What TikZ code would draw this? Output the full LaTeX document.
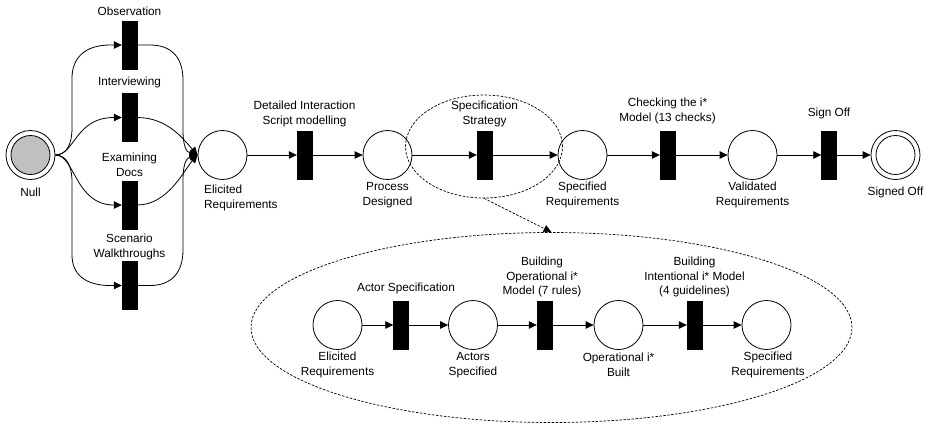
\documentclass[tikz,border=0pt]{standalone}
\usepackage{fontspec}
\setmainfont{Liberation Sans}
\usetikzlibrary{arrows.meta,shapes.geometric}
\begin{document}
\begin{tikzpicture}[x=1pt,y=-1pt,
  place/.style={draw,circle,minimum size=49pt,inner sep=0pt,line width=0.8pt},
  innerplace/.style={draw,circle,minimum size=39pt,inner sep=0pt,line width=0.8pt},
  trans/.style={draw,fill=black,rectangle,minimum width=15pt,minimum height=48pt,inner sep=0pt},
  lbl/.style={inner sep=0pt,align=center,font=\fontsize{11.8}{14.5}\selectfont},
  arc/.style={line width=0.8pt,-{Triangle[length=8pt,width=7.5pt]}},
  dashedline/.style={line width=0.7pt,dash pattern=on 2.5pt off 1.5pt}]
\useasboundingbox (0,0) rectangle (937,424);

% ---- places of the main net ----
\node[place] (null) at (30.5,155) {};
\node[innerplace,fill={rgb,255:red,192;green,192;blue,192}] (nullin) at (30.5,155) {};
\node[place] (elic) at (222.5,155) {};
\node[place] (proc) at (387.5,155) {};
\node[place] (spec) at (582.5,155) {};
\node[place] (vali) at (752.5,155) {};
\node[place] (sign) at (895.5,155) {};
\node[innerplace] (signin) at (895.5,155) {};

% ---- transitions of the main net ----
\node[trans] (obs) at (129.5,45) {};
\node[trans] (int) at (129.5,117.5) {};
\node[trans] (exa) at (129.5,205) {};
\node[trans] (scn) at (129.5,285.5) {};
\node[trans] (dis) at (304.5,155) {};
\node[trans] (sst) at (484.5,155) {};
\node[trans] (chk) at (667.5,155) {};
\node[trans] (sof) at (829,155) {};

% ---- labels of the main net ----
\node[lbl] (lnull) at (30.5,192) {Null};
\node[lbl] (lobs) at (129.5,11) {Observation};
\node[lbl] (lint) at (129.5,82) {Interviewing};
\node[lbl] (lexa) at (129.5,165) {Examining\\Docs};
\node[lbl] (lscn) at (129.5,247) {Scenario\\Walkthroughs};
\node[lbl,align=left,anchor=west] (lelic) at (204,198) {Elicited\\Requirements};
\node[lbl] (ldis) at (304.5,114) {Detailed Interaction\\Script modelling};
\node[lbl] (lproc) at (387.5,195) {Process\\Designed};
\node[lbl] (lsst) at (484.5,114) {Specification\\Strategy};
\node[lbl] (lspec) at (582.5,195) {Specified\\Requirements};
\node[lbl] (lchk) at (667.5,111) {Checking the i*\\Model (13 checks)};
\node[lbl] (lvali) at (752.5,195) {Validated\\Requirements};
\node[lbl] (lsof) at (829,113) {Sign Off};
\node[lbl] (lsign) at (895.5,192) {Signed Off};

% ---- elicitation branches ----
\draw[arc] (null.east) .. controls (66,155) and (72,145) .. (72,128) -- (72,78)
  .. controls (72,58) and (85,45) .. (110,45) -- (obs.west);
\draw[arc] (null.east) .. controls (75,155) and (75,117.5) .. (int.west);
\draw[arc] (null.east) .. controls (75,155) and (75,205) .. (exa.west);
\draw[arc] (null.east) .. controls (66,155) and (72,165) .. (72,182) -- (72,255)
  .. controls (72,274) and (85,285.5) .. (110,285.5) -- (scn.west);

\draw[arc] (obs.east) -- (150,45) .. controls (172,45) and (183,58) .. (183,80) -- (183,130)
  .. controls (183,145) and (186,152) .. (elic.west);
\draw[arc] (int.east) .. controls (168,117.5) and (184,140) .. (elic.west);
\draw[arc] (exa.east) .. controls (168,205) and (184,170) .. (elic.west);
\draw[arc] (scn.east) -- (150,285.5) .. controls (172,285.5) and (183,272) .. (183,250) -- (183,180)
  .. controls (183,165) and (186,158) .. (elic.west);

% ---- main sequence ----
\draw[arc] (elic.east) -- (dis.west);
\draw[arc] (dis.east) -- (proc.west);
\draw[arc] (proc.east) -- (sst.west);
\draw[arc] (sst.east) -- (spec.west);
\draw[arc] (spec.east) -- (chk.west);
\draw[arc] (chk.east) -- (vali.west);
\draw[arc] (vali.east) -- (sof.west);
\draw[arc] (sof.east) -- (sign.west);

% ---- refinement of the specification strategy ----
\node[draw,ellipse,dashedline,minimum width=157pt,minimum height=103pt,inner sep=0pt] (sse) at (484,146.5) {};
\node[draw,ellipse,dashedline,minimum width=601pt,minimum height=190pt,inner sep=0pt] (big) at (551.5,327.5) {};
\draw[dashedline,-{Triangle[length=8pt,width=7.5pt]}] (sse.south) -- (big.north);

% ---- places of the sub net ----
\node[place] (selic) at (337.5,325) {};
\node[place] (sact) at (473,325) {};
\node[place] (sopb) at (618.5,325) {};
\node[place] (sspec) at (766.5,325) {};

% ---- transitions of the sub net ----
\node[trans] (tact) at (401,325) {};
\node[trans] (topm) at (544.5,325) {};
\node[trans] (tint) at (694.5,325) {};

% ---- labels of the sub net ----
\node[lbl] (lselic) at (337.5,365) {Elicited\\Requirements};
\node[lbl] (ltact) at (406,288) {Actor Specification};
\node[lbl] (lsact) at (473,365) {Actors\\Specified};
\node[lbl] (ltopm) at (542,277) {Building\\Operational i*\\Model (7 rules)};
\node[lbl] (lsopb) at (618.5,365) {Operational i*\\Built};
\node[lbl] (ltint) at (694.5,277) {Building\\Intentional i* Model\\(4 guidelines)};
\node[lbl] (lsspec) at (768,365) {Specified\\Requirements};

\draw[arc] (selic.east) -- (tact.west);
\draw[arc] (tact.east) -- (sact.west);
\draw[arc] (sact.east) -- (topm.west);
\draw[arc] (topm.east) -- (sopb.west);
\draw[arc] (sopb.east) -- (tint.west);
\draw[arc] (tint.east) -- (sspec.west);
\end{tikzpicture}
\end{document}
